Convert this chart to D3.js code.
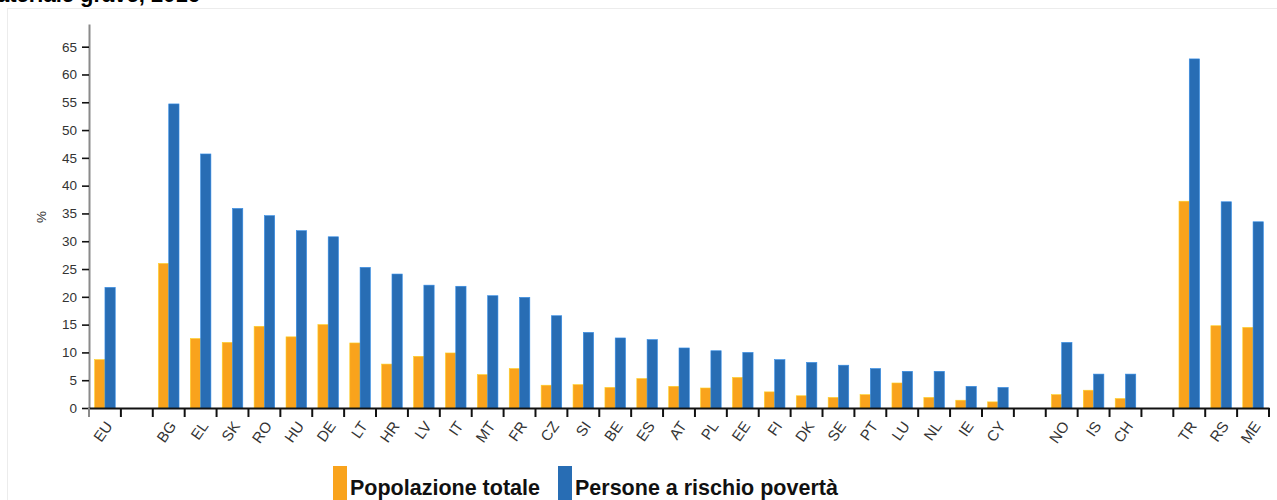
<!DOCTYPE html>
<html>
<head>
<meta charset="utf-8">
<script src="https://cdn.jsdelivr.net/npm/d3@7"></script>
<style>
  body { margin: 0; background: #fff; }
  svg { display: block; }
</style>
</head>
<body>
<svg id="chart"></svg>
<script>
// country codes, gaps are empty slots between groups
const categories = [
    'EU', 'gap1',
    'BG', 'EL', 'SK', 'RO', 'HU', 'DE', 'LT', 'HR', 'LV', 'IT', 'MT', 'FR', 'CZ',
    'SI', 'BE', 'ES', 'AT', 'PL', 'EE', 'FI', 'DK', 'SE', 'PT', 'LU', 'NL', 'IE', 'CY',
    'gap2', 'NO', 'IS', 'CH', 'gap3', 'TR', 'RS', 'ME'
];
const popolazioneTotale = [
    8.7, null,
    26.0, 12.5, 11.8, 14.7, 12.8, 15.0, 11.7, 7.9, 9.3, 9.9, 6.0, 7.1, 4.1,
    4.2, 3.7, 5.3, 3.9, 3.6, 5.5, 2.9, 2.2, 1.9, 2.4, 4.5, 1.9, 1.4, 1.1,
    null, 2.4, 3.2, 1.7, null, 37.2, 14.8, 14.5
];
const personeRischio = [
    21.7, null,
    54.7, 45.7, 35.9, 34.6, 31.9, 30.8, 25.3, 24.1, 22.1, 21.9, 20.2, 19.9, 16.6,
    13.6, 12.6, 12.3, 10.8, 10.3, 10.0, 8.7, 8.2, 7.7, 7.1, 6.6, 6.6, 3.9, 3.7,
    null, 11.8, 6.1, 6.1, null, 62.8, 37.1, 33.5
];
const seriesNames = ['Popolazione totale', 'Persone a rischio povertà'];
const yTicks = [0, 5, 10, 15, 20, 25, 30, 35, 40, 45, 50, 55, 60, 65];

const width = 1277, height = 500;
const colors = ['#f9a31c', '#286db4'];

const svg = d3.select('#chart')
    .attr('width', width)
    .attr('height', height);

// title, mostly cut off at the top of the picture
svg.append('text')
    .attr('x', 200)
    .attr('y', 1.5)
    .attr('text-anchor', 'end')
    .style('font-family', 'Liberation Sans, Arial, sans-serif')
    .style('font-weight', 'bold')
    .style('font-size', '22px')
    .text('Deprivazione materiale grave, 2016');

// light frame of the chart area
svg.append('rect')
    .attr('x', 7.5)
    .attr('y', 8.5)
    .attr('width', width)
    .attr('height', height)
    .attr('fill', 'none')
    .attr('stroke', '#ececec');

const plotLeft = 89, plotRight = 1269, plotBottom = 408, plotTop = 24;

const xScale = d3.scaleBand()
    .domain(categories)
    .range([plotLeft, plotRight])
    .padding(0);

const xInner = d3.scaleBand()
    .domain([0, 1])
    .range([0, xScale.bandwidth()])
    .paddingInner(0)
    .paddingOuter(0.55);

const yScale = d3.scaleLinear()
    .domain([0, d3.max(personeRischio) * 1.1])
    .range([plotBottom, plotTop]);

// y axis
const yAxis = d3.axisLeft(yScale)
    .tickValues(yTicks)
    .tickSize(7)
    .tickSizeOuter(0)
    .tickPadding(5);

const gy = svg.append('g')
    .attr('transform', `translate(${plotLeft}, 0)`)
    .call(yAxis);
gy.select('.domain').attr('stroke', '#8a8a8a').attr('stroke-width', 2);
gy.selectAll('.tick line').attr('stroke', '#111').attr('stroke-width', 1.6);
gy.selectAll('.tick text')
    .attr('fill', '#333')
    .style('font-family', 'Liberation Sans, Arial, sans-serif')
    .style('font-size', '13.5px');

svg.append('text')
    .attr('transform', `translate(46, 217) rotate(-90)`)
    .attr('text-anchor', 'middle')
    .attr('fill', '#333')
    .style('font-family', 'Liberation Sans, Arial, sans-serif')
    .style('font-size', '13.5px')
    .text('%');

// bars
const rows = categories.map((c, i) => ({c, v: [popolazioneTotale[i], personeRischio[i]]}))
    .filter(d => d.v[0] !== null);

svg.append('g')
    .selectAll('g')
    .data(rows)
    .join('g')
    .attr('transform', d => `translate(${xScale(d.c)}, 0)`)
    .selectAll('rect')
    .data(d => d.v)
    .join('rect')
    .attr('x', (v, i) => xInner(i))
    .attr('y', v => yScale(v))
    .attr('width', xInner.bandwidth())
    .attr('height', v => yScale(0) - yScale(v))
    .attr('fill', (v, i) => colors[i])
    .attr('stroke', (v, i) => d3.color(colors[i]).brighter(0.7))
    .attr('stroke-width', 0.6);

// x axis, tick marks sit on the band boundaries
const xAxis = d3.axisBottom(xScale)
    .tickSize(0)
    .tickSizeOuter(0)
    .tickFormat(d => d.startsWith('gap') ? '' : d);

const gx = svg.append('g')
    .attr('transform', `translate(0, ${plotBottom})`)
    .call(xAxis);
gx.select('.domain').attr('stroke', '#111').attr('stroke-width', 2);

gx.selectAll('.boundary')
    .data(categories.concat(['end']))
    .join('line')
    .attr('class', 'boundary')
    .attr('x1', (d, i) => plotLeft + i * xScale.step())
    .attr('x2', (d, i) => plotLeft + i * xScale.step())
    .attr('y1', 0)
    .attr('y2', 9)
    .attr('stroke', (d, i) => i === 0 ? '#8a8a8a' : '#111')
    .attr('stroke-width', 2);

gx.selectAll('.tick text')
    .attr('text-anchor', 'end')
    .attr('fill', '#333')
    .attr('transform', 'translate(4, 15) rotate(-55)')
    .attr('dy', '0.35em')
    .attr('y', 0)
    .attr('x', 0)
    .style('font-family', 'Liberation Sans, Arial, sans-serif')
    .style('font-size', '15px');

// legend
const legendX = [333, 558];
const legend = svg.append('g');
legend.selectAll('rect')
    .data(seriesNames)
    .join('rect')
    .attr('x', (d, i) => legendX[i])
    .attr('y', 466)
    .attr('width', 14)
    .attr('height', 40)
    .attr('fill', (d, i) => colors[i]);
legend.selectAll('text')
    .data(seriesNames)
    .join('text')
    .attr('x', (d, i) => legendX[i] + 17)
    .attr('y', 495)
    .style('font-family', 'Liberation Sans Narrow, Liberation Sans, Arial, sans-serif')
    .style('font-weight', 'bold')
    .style('font-size', '21.5px')
    .attr('fill', '#111')
    .text(d => d);
</script>
</body>
</html>
